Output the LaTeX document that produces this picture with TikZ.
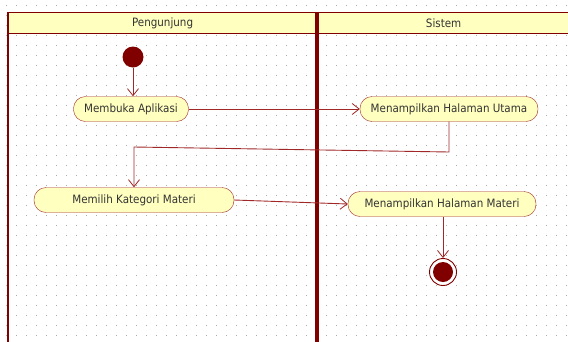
\documentclass[tikz,border=0pt]{standalone}
\usepackage{fontspec}
\setmainfont{DejaVu Sans Condensed}
\usetikzlibrary{arrows.meta}
\definecolor{darkred}{RGB}{128,0,0}
\definecolor{linered}{RGB}{160,40,40}
\definecolor{actfill}{RGB}{255,255,192}
\definecolor{dotgray}{RGB}{170,170,170}
\tikzset{
  act/.style={draw=linered, fill=actfill, rounded corners=12pt, minimum height=25pt, inner sep=0pt, font=\fontsize{11.5}{13}\selectfont, text=black!80},
  flow/.style={draw=linered, line width=0.9pt, -{Straight Barb[length=7pt,width=11pt,line width=0.8pt]}},
  hdr/.style={draw=darkred, line width=1.2pt, fill=actfill, font=\fontsize{11.5}{13}\selectfont, text=black!80}
}
\begin{document}
\begin{tikzpicture}[x=1pt,y=-1pt]
\useasboundingbox (0,0) rectangle (568,341);
\fill[white] (0,0) rectangle (568,341);
% dotted grid
\foreach \i in {0,...,56} {
  \foreach \j in {0,...,34} {
    \fill[dotgray] (6+10*\i,5+10*\j) rectangle ++(1,1);
  }
}
% swimlanes
\node[hdr, minimum width=308pt, minimum height=21pt, inner sep=0pt, anchor=north west] (h1) at (8,12) {Pengunjung};
\node[hdr, minimum width=252pt, minimum height=21pt, inner sep=0pt, anchor=north west] (h2) at (317,12) {Sistem};
\draw[darkred, line width=2pt] (8,12) -- (8,345);
\draw[darkred, line width=4pt] (317,12) -- (317,345);
% nodes
\node[circle, fill=darkred, minimum size=21pt, inner sep=0pt] (start) at (133,57) {};
\node[act, minimum width=115pt] (a1) at (131,109) {Membuka Aplikasi};
\node[act, minimum width=178pt] (a2) at (449,109) {Menampilkan Halaman Utama};
\node[act, minimum width=200pt] (a3) at (134,200) {Memilih Kategori Materi};
\node[act, minimum width=188pt] (a4) at (442,204) {Menampilkan Halaman Materi};
\node[circle, draw=darkred, fill=white, line width=0.9pt, minimum size=27pt, inner sep=0pt] (end) at (443,272) {};
\fill[darkred] (end.center) circle (10pt);
% flows
\coordinate (c1) at (449,152);
\coordinate (c2) at (134,147);
\draw[flow] (start.south) -- (start.south |- a1.north);
\draw[flow] (a1) -- (a2);
\draw[flow] (a2.south) -- (c1) -- (c2) -- (a3.north);
\draw[flow] (a3.east) -- (a4.west);
\draw[flow] (a4.south -| end) -- (end);
\end{tikzpicture}
\end{document}
